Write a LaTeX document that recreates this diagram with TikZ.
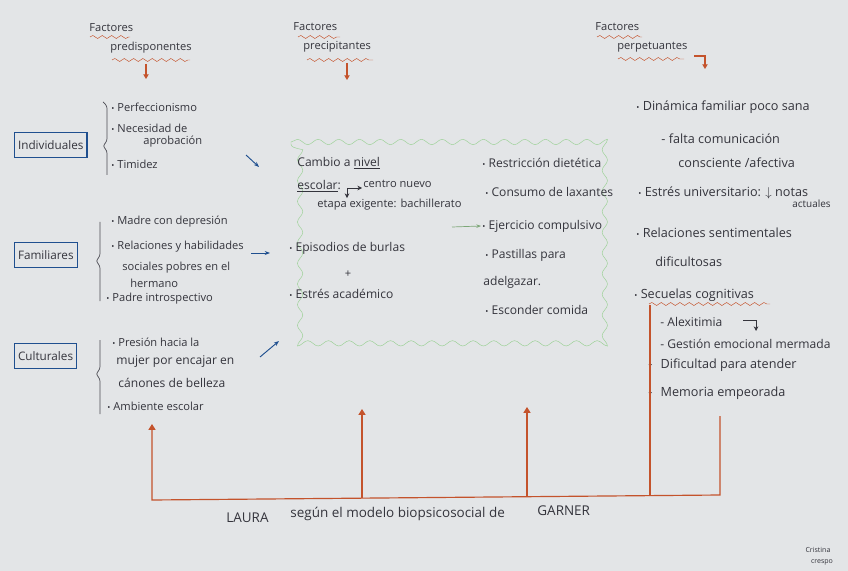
\documentclass[tikz,border=0pt]{standalone}
\usepackage{fontspec}
\setmainfont{Open Sans}
\usetikzlibrary{arrows.meta,decorations.pathmorphing,positioning}
\definecolor{paper}{HTML}{E3E5E7}
\definecolor{ink}{HTML}{34343C}
\definecolor{rust}{HTML}{C4532C}
\definecolor{pen}{HTML}{1F4F8F}
\definecolor{leaf}{HTML}{9CD196}
\definecolor{graphite}{HTML}{4A4A52}
\newcommand{\bul}{{\scriptsize\textbullet}\ }

\begin{document}
\begin{tikzpicture}[
      x=0.03cm, y=-0.03cm,
      every node/.style={font=\fontsize{9.5}{11}\selectfont, text=ink, inner sep=1pt},
      txt/.style={anchor=west},
      midtxt/.style={anchor=west, font=\fontsize{10.3}{12}\selectfont},
      righttxt/.style={anchor=west, font=\fontsize{10.8}{12}\selectfont},
      basetxt/.style={anchor=west, font=\fontsize{11.5}{13}\selectfont},
      catbox/.style={
        draw=pen, line width=0.9pt,
        anchor=north west,
        inner xsep=3pt,
        minimum height=0.75cm,
        font=\fontsize{10}{12}\selectfont
      },
      wavy/.style={rust, thin, decorate,
        decoration={snake, segment length=0.28cm, amplitude=0.045cm}},
      rustarrow/.style={rust, line width=0.9pt, -{Triangle[length=4pt,width=4.5pt]}},
      rustline/.style={rust, line width=1pt},
      penarrow/.style={pen, line width=0.8pt, -{Stealth[length=4.5pt]}},
      inkarrow/.style={ink, line width=0.6pt, -{Stealth[length=4pt,width=4pt]}},
      bracket/.style={graphite, line width=0.6pt, rounded corners=2pt}
    ]
      \fill[paper] (0,0) rectangle (848,571);
      \useasboundingbox (0,0) rectangle (848,571);

      % cabeceras
      \node[txt] (fac1) at (88,28) {Factores};
      \node[txt] (pred) at (109,48) {predisponentes};
      \node[txt] (fac2) at (292,27) {Factores};
      \node[txt] (prec) at (302,47) {precipitantes};
      \node[txt] (fac3) at (594,27) {Factores};
      \node[txt] (perp) at (616,47) {perpetuantes};
      \draw[wavy] (90,37) -- (130,37);
      \draw[wavy] (112,60) -- (190,60);
      \draw[wavy] (298,37) -- (340,37);
      \draw[wavy] (307,60) -- (373,60);
      \draw[wavy] (597,37) -- (642,37);
      \draw[wavy] (618,59) -- (684,59);
      \coordinate (a1) at (146,64);
      \coordinate (a1e) at (146,79);
      \coordinate (a2) at (347,63);
      \coordinate (a2e) at (347,80);
      \coordinate (a3) at (694,56);
      \coordinate (a3e) at (705,69);
      \draw[rustarrow] (a1) -- (a1e);
      \draw[rustarrow] (a2) -- (a2e);
      \draw[rustarrow] (a3) -| (a3e);

      % predisponentes
      \node[catbox] (indiv) at (14,132) {Individuales};
      \node[catbox] (famil) at (14,242) {Familiares};
      \node[catbox] (cultu) at (14,343) {Culturales};
      \draw[bracket] (103,102) -- (107,106) -- (107,141) -- (103,146) -- (107,151) -- (107,175);
      \draw[bracket] (100,222) -- (100,256) -- (96,261) -- (100,266) -- (100,301);
      \draw[bracket] (100,340) -- (100,369) -- (96,374) -- (100,379) -- (100,414);

      \node[txt] (perf) at (110,107) {\bul Perfeccionismo};
      \node[txt] (neces) at (110,128) {\bul Necesidad de};
      \node[txt] (aprob) at (142,142) {aprobación};
      \node[txt] (timid) at (110,164) {\bul Timidez};

      \node[txt] (madre) at (110,222) {\bul Madre con depresión};
      \node[txt] (relac) at (110,247) {\bul Relaciones y habilidades};
      \node[txt] (socia) at (121,268) {sociales pobres en el};
      \node[txt] (herma) at (129,283) {hermano};
      \node[txt] (padre) at (105,299) {\bul Padre introspectivo};

      \node[txt] (presi) at (111,342) {\bul Presión hacia la};
      \node[midtxt] (mujer) at (115,362) {mujer por encajar en};
      \node[midtxt] (canon) at (117,383) {cánones de belleza};
      \node[txt] (ambie) at (106,406) {\bul Ambiente escolar};

      \coordinate (p1) at (246,155);
      \coordinate (p1e) at (259,167);
      \coordinate (p2) at (251,253);
      \coordinate (p2e) at (270,253);
      \coordinate (p3) at (260,357);
      \coordinate (p3e) at (279,341);
      \draw[penarrow] (p1) -- (p1e);
      \draw[penarrow] (p2) -- (p2e);
      \draw[penarrow] (p3) -- (p3e);

      % precipitantes
      \draw[leaf, thin, decorate, decoration={snake, segment length=0.62cm, amplitude=0.08cm}]
        (291,142) -- (603,142) -- (603,349) -- (291,349) -- cycle;
      \node[midtxt] (cambio) at (296,163) {Cambio a \underline{nivel}};
      \node[midtxt] (escol) at (296,186) {\underline{escolar}:};
      \node[txt] (centro) at (362,184) {centro nuevo};
      \node[txt] (etapa) at (316,205) {etapa exigente: bachillerato};
      \coordinate (esq) at (347,188);
      \draw[inkarrow] (esq) -- (centro.west |- esq);
      \draw[inkarrow] (esq) -- (esq |- etapa.north);
      \node[midtxt] (burlas) at (288,248) {\bul Episodios de burlas};
      \node (mas) at (348,274) {+};
      \node[midtxt] (estres) at (288,294) {\bul Estrés académico};

      \node[midtxt] (restr) at (481,163) {\bul Restricción dietética};
      \node[midtxt] (laxan) at (484,192) {\bul Consumo de laxantes};
      \node[midtxt] (ejerc) at (481,226) {\bul Ejercicio compulsivo};
      \node[midtxt] (pasti) at (484,255) {\bul Pastillas para};
      \node[midtxt] (adelg) at (482,282) {adelgazar.};
      \node[midtxt] (escon) at (484,310) {\bul Esconder comida};
      \coordinate (g1) at (452,227);
      \draw[leaf!80!black, line width=0.6pt, -{Stealth[length=4pt]}] (g1) -- (ejerc.west);

      % perpetuantes
      \node[righttxt] (dinam) at (635,107) {\bul Dinámica familiar poco sana};
      \node[righttxt] (falta) at (660,139) {- falta comunicación};
      \node[righttxt] (consc) at (677,163) {consciente /afectiva};
      \node[righttxt] (univ) at (637,193) {\bul Estrés universitario: $\downarrow$ notas};
      \node[txt, font=\fontsize{8.5}{9}\selectfont] (actua) at (791,204) {actuales};
      \node[righttxt] (senti) at (635,233) {\bul Relaciones sentimentales};
      \node[righttxt] (dific) at (654,262) {dificultosas};
      \node[righttxt] (secue) at (633,295) {\bul Secuelas cognitivas};
      \draw[wavy] (649,304) -- (770,304);
      \node[midtxt] (alexi) at (659,322) {- Alexitimia};
      \coordinate (x1) at (743,320);
      \coordinate (x1e) at (756,331);
      \draw[inkarrow] (x1) -| (x1e);
      \node[midtxt] (gesti) at (659,344) {- Gestión emocional mermada};
      \node[righttxt] (atend) at (647,365) {-\hspace{7pt}Dificultad para atender};
      \node[righttxt] (memor) at (647,393) {-\hspace{7pt}Memoria empeorada};

      % base
      \coordinate (b1) at (152,500);
      \coordinate (b1t) at (152,424);
      \coordinate (b2) at (362,498);
      \coordinate (b2t) at (362,409);
      \coordinate (b3) at (527,497);
      \coordinate (b3t) at (527,407);
      \coordinate (b4) at (650,496);
      \coordinate (b4t) at (650,305);
      \coordinate (b5) at (720,495);
      \coordinate (b5t) at (720,416);
      \draw[rustline, {Triangle[length=5pt,width=6pt]}-] (b1t) -- (b1) -- (b5) -- (b5t);
      \draw[rustline, -{Triangle[length=5pt,width=6pt]}] (b2) -- (b2t);
      \draw[rustline, -{Triangle[length=5pt,width=6pt]}] (b3) -- (b3t);
      \draw[rustline] (b4) -- (b4t);

      \node[basetxt] (laura) at (225,518) {LAURA};
      \node[basetxt] (segun) at (289,514) {según el modelo biopsicosocial de};
      \node[basetxt] (garner) at (536,511) {GARNER};
      \node[font=\fontsize{6}{7}\selectfont] (firma1) at (818,550) {Cristina};
      \node[font=\fontsize{6}{7}\selectfont] (firma2) at (822,562) {crespo};
    \end{tikzpicture}
\end{document}
